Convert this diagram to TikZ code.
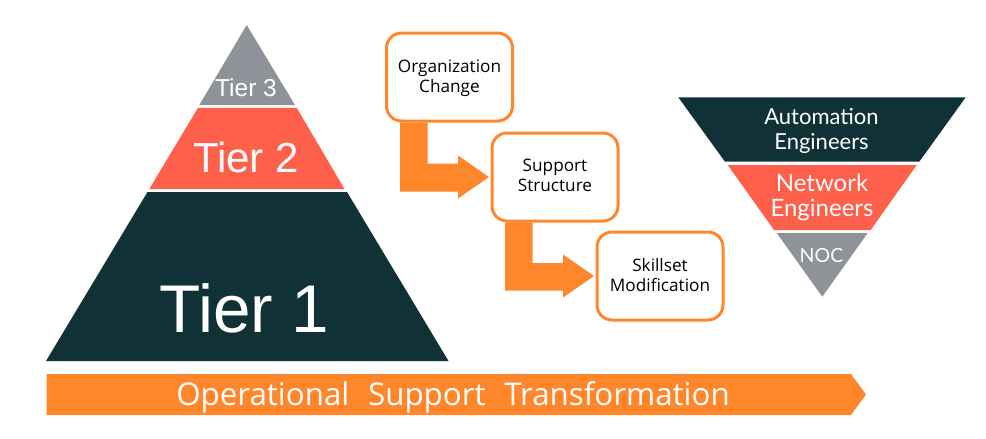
\documentclass[tikz,border=0pt]{standalone}
\usepackage{fontspec}
\setmainfont{Liberation Sans}
\newfontfamily\boxfont{Open Sans}
\newfontfamily\geofont{Lato}
\usetikzlibrary{calc}
\definecolor{darkteal}{HTML}{103135}
\definecolor{coral}{HTML}{FF604B}
\definecolor{slategray}{HTML}{8F9399}
\definecolor{brandorange}{HTML}{FF862B}
\newcommand{\fs}[1]{\fontsize{#1}{#1}\selectfont}
\tikzset{
  stepbox/.style={draw=brandorange,line width=3pt,fill=white,rounded corners=15pt,minimum width=126pt,minimum height=88pt},
  steptext/.style={inner sep=0pt,align=center,text=black,font=\boxfont\fs{17.2}\setlength{\baselineskip}{20pt}},
  flowarrow/.style={fill=brandorange,draw=none},
  tierlabel/.style={text=white,inner sep=0pt,align=center},
}
\begin{document}
\begin{tikzpicture}[x=1pt,y=-1pt]
\useasboundingbox (0,0) rectangle (986,439);
% left pyramid
\fill[slategray] (246.7,25) -- (295,105) -- (199.3,105) -- cycle;
\fill[coral] (198,107.8) -- (296.7,107.8) -- (344.5,189) -- (149.3,189) -- cycle;
\fill[darkteal] (147.5,192) -- (347,192) -- (448.5,361) -- (46,361) -- cycle;
\node[tierlabel,font=\fs{24.5}] (t3) at (246,88) {Tier 3};
\node[tierlabel,font=\fs{42}] (t2) at (246,157.5) {Tier 2};
\node[tierlabel,font=\fs{67.5}] (t1) at (244.5,308) {Tier 1};
% steps
\node[stepbox] (org) at (449.5,77) {};
\node[steptext] (orgt) at (449.5,78) {Organization\\Change};
\node[stepbox] (sup) at (555,177) {};
\node[steptext] (supt) at (555,175.5) {Support\\Structure};
\node[stepbox] (skl) at (660,276) {};
\node[steptext] (sklt) at (660,275.5) {Skillset\\Modification};
% block arrows
\fill[flowarrow] ([xshift=-49.5pt]org.south) -- ([xshift=-21.8pt]org.south) |- ($(sup.west)+(-32.5,-13.5)$)
  -- ($(sup.west)+(-32.5,-21.5)$) -- ($(sup.west)+(-1.5,0)$) -- ($(sup.west)+(-32.5,21.5)$)
  -- ($(sup.west)+(-32.5,14.5)$) -- ($(sup.west)+(-90.5,14.5)$) -- cycle;
\fill[flowarrow] ([xshift=-50pt]sup.south) -- ([xshift=-22.3pt]sup.south) |- ($(skl.west)+(-32.5,-13)$)
  -- ($(skl.west)+(-32.5,-21.5)$) -- ($(skl.west)+(-1.5,0)$) -- ($(skl.west)+(-32.5,21.5)$)
  -- ($(skl.west)+(-32.5,14.5)$) -- ($(skl.west)+(-90.5,14.5)$) -- cycle;
% right inverted pyramid
\fill[darkteal] (678.3,97.3) -- (965.7,97.3) -- (919.3,161.7) -- (725,161.7) -- cycle;
\fill[coral] (727.7,165) -- (916.7,165) -- (870.7,230) -- (774,230) -- cycle;
\fill[slategray] (776.7,233) -- (867.7,233) -- (822.3,296.7) -- cycle;
\node[tierlabel,font=\geofont\fs{22}\setlength{\baselineskip}{25pt}] (ae) at (821.5,131) {Automation\\Engineers};
\node[tierlabel,font=\geofont\fs{24}\setlength{\baselineskip}{25pt}] (ne) at (822,197) {Network\\Engineers};
\node[tierlabel,font=\geofont\fs{19.5}] (noc) at (821.5,255.5) {NOC};
% band
\fill[brandorange] (46.5,374) -- (851,374) -- (866,394.5) -- (851,415) -- (46.5,415) -- cycle;
\node[tierlabel,font=\boxfont\fs{31.3}] (band) at (453,397) {Operational\hspace{0.6em}Support\hspace{0.6em}Transformation};
\end{tikzpicture}
\end{document}
